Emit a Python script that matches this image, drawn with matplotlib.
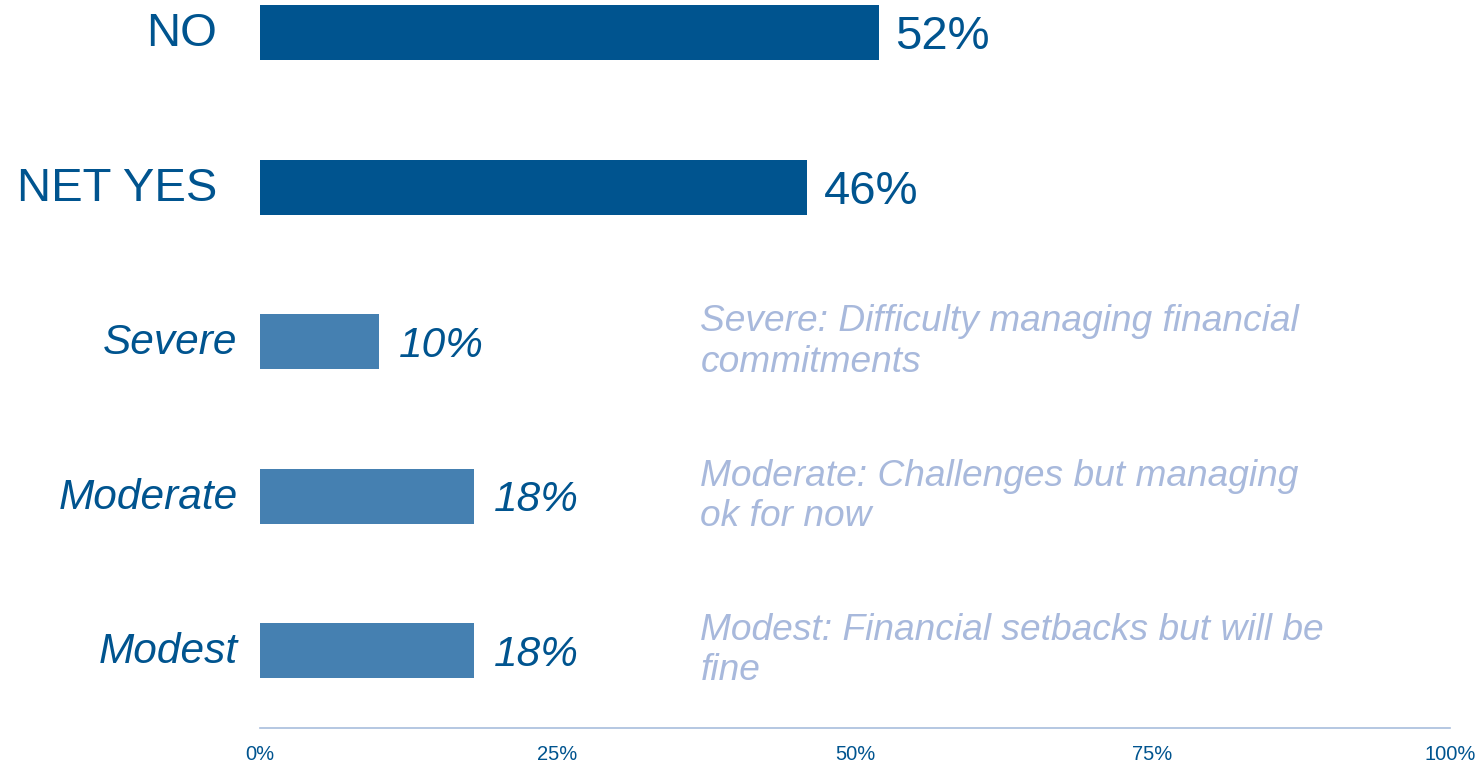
import matplotlib
matplotlib.use('Agg')
import matplotlib.pyplot as plt
from matplotlib.ticker import FuncFormatter

plt.rcParams['font.family'] = ['Liberation Sans', 'DejaVu Sans']

categories = ['NO', 'NET YES', 'Severe', 'Moderate', 'Modest']
values = [52, 46, 10, 18, 18]
is_sub = [False, False, True, True, True]
notes = {
    'Severe': 'Severe: Difficulty managing financial\ncommitments',
    'Moderate': 'Moderate: Challenges but managing\nok for now',
    'Modest': 'Modest: Financial setbacks but will be\nfine',
}
ticks = [0, 25, 50, 75, 100]

dark = '#00548F'
light = '#4580B1'
note_color = '#A8B9DC'
axis_color = '#A8BEDD'

fig = plt.figure(figsize=(14.76, 7.64), dpi=100)
ax = fig.add_axes([260 / 1476, 36 / 764, 1190 / 1476, 1 - 36 / 764])

ypos = list(range(len(categories)))
colors = [light if s else dark for s in is_sub]
ax.barh(ypos, values, height=0.355, color=colors)

ax.set_xlim(0, 100)
ax.set_ylim(4.5, -0.213)

for y, v, name, sub in zip(ypos, values, categories, is_sub):
    style = 'italic' if sub else 'normal'
    size = 30.5 if sub else 34
    ax.annotate(f'{v}%', xy=(v, y), xytext=(14 if sub else 12, -3),
                textcoords='offset points', va='center', ha='left',
                fontsize=size, style=style, color=dark)
    ax.annotate(name, xy=(0, y), xytext=(-16 if sub else -31, -1),
                textcoords='offset points', va='center', ha='right',
                fontsize=size, style=style, color=dark)
    if name in notes:
        ax.text(37, y, notes[name], va='center', ha='left', fontsize=26.7,
                style='italic', color=note_color, linespacing=1.2)

ax.set_yticks([])
ax.set_xticks(ticks)
ax.xaxis.set_major_formatter(FuncFormatter(lambda x, p: f'{x:.0f}%'))
ax.tick_params(axis='x', length=0, labelsize=14.5, labelcolor=dark, pad=12)
for s in ['top', 'right', 'left']:
    ax.spines[s].set_visible(False)
ax.spines['bottom'].set_color(axis_color)
ax.spines['bottom'].set_linewidth(1.2)
ax.spines['bottom'].set_position(('data', 4.5))

fig.savefig('out.png', dpi=100)
